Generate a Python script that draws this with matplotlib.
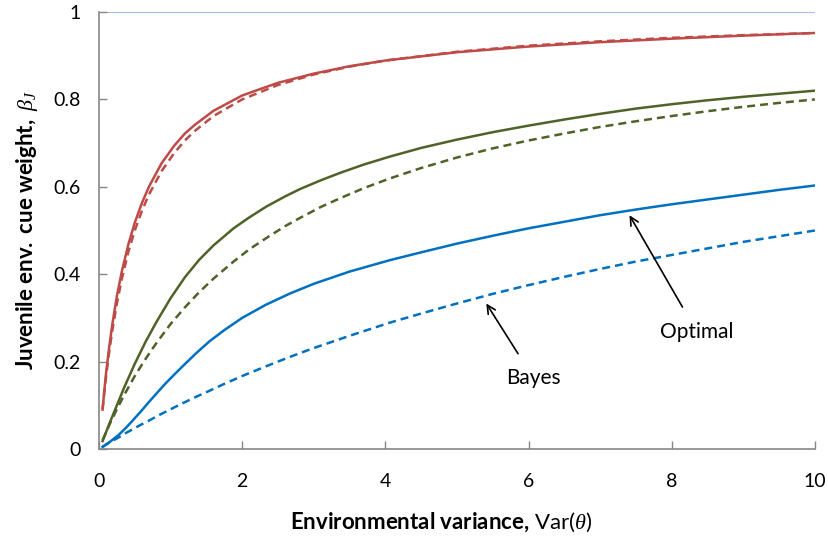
import matplotlib.pyplot as plt

plt.rcParams['font.family'] = ['Lato', 'DejaVu Sans']
plt.rcParams['mathtext.fontset'] = 'custom'
plt.rcParams['mathtext.rm'] = 'Lato'
plt.rcParams['mathtext.bf'] = 'Lato:bold'
plt.rcParams['mathtext.it'] = 'Liberation Serif:italic'

# values
red_x = [0.05, 0.075, 0.1, 0.14, 0.186, 0.25, 0.32, 0.41, 0.5, 0.6, 0.7, 0.875, 1.05, 1.2, 1.34,
         1.6, 2, 2.5, 3, 3.5, 4, 5, 6, 7, 8, 9, 10]
red_opt = [0.09, 0.135, 0.175, 0.23, 0.285, 0.35, 0.407, 0.468, 0.518, 0.563, 0.601, 0.654, 0.694, 0.722, 0.742,
           0.774, 0.809, 0.838, 0.859, 0.876, 0.889, 0.908, 0.921, 0.931, 0.939, 0.946, 0.952]
red_bayes = [0.091, 0.130, 0.167, 0.219, 0.271, 0.333, 0.390, 0.451, 0.5, 0.545, 0.583, 0.636, 0.677, 0.706, 0.728,
             0.762, 0.8, 0.833, 0.857, 0.875, 0.889, 0.909, 0.923, 0.933, 0.941, 0.947, 0.952]

green_x = [0.05, 0.15, 0.25, 0.35, 0.5, 0.65, 0.8, 1, 1.2, 1.4, 1.6, 1.88, 2.1, 2.34, 2.6, 2.81, 3.1, 3.37,
           3.7, 4.06, 4.5, 5, 5.5, 6, 6.5, 7, 7.5, 8, 8.5, 9, 9.5, 10]
green_opt = [0.018, 0.06, 0.10, 0.14, 0.195, 0.245, 0.29, 0.345, 0.393, 0.433, 0.466, 0.505, 0.530, 0.555, 0.578,
             0.595, 0.615, 0.632, 0.651, 0.669, 0.689, 0.708, 0.725, 0.740, 0.754, 0.767, 0.779, 0.789, 0.798,
             0.806, 0.813, 0.820]
green_bayes = [0.02, 0.057, 0.091, 0.123, 0.167, 0.206, 0.242, 0.286, 0.324, 0.359, 0.390, 0.429, 0.457, 0.483,
               0.510, 0.529, 0.554, 0.574, 0.597, 0.619, 0.643, 0.667, 0.688, 0.706, 0.722, 0.737, 0.75, 0.762,
               0.773, 0.783, 0.792, 0.8]

blue_x = [0.05, 0.15, 0.28, 0.38, 0.47, 0.58, 0.7, 0.82, 0.93, 1.05, 1.16, 1.35, 1.54, 1.75, 2, 2.33, 2.67, 3,
          3.5, 4.06, 4.5, 5, 5.5, 6, 6.5, 7, 7.5, 8, 8.5, 9, 9.5, 10]
blue_opt = [0.005, 0.016, 0.033, 0.049, 0.065, 0.085, 0.108, 0.130, 0.150, 0.170, 0.188, 0.218, 0.246, 0.272,
            0.300, 0.330, 0.356, 0.378, 0.406, 0.432, 0.450, 0.470, 0.488, 0.505, 0.520, 0.535, 0.548, 0.560,
            0.571, 0.582, 0.593, 0.603]
blue_bayes = [0.005, 0.015, 0.027, 0.037, 0.045, 0.055, 0.065, 0.076, 0.085, 0.095, 0.104, 0.119, 0.133, 0.149,
              0.167, 0.189, 0.211, 0.231, 0.259, 0.289, 0.310, 0.333, 0.355, 0.375, 0.394, 0.412, 0.429, 0.444,
              0.459, 0.474, 0.487, 0.5]

x_ticks = [0, 2, 4, 6, 8, 10]
y_ticks = [0, 0.2, 0.4, 0.6, 0.8, 1]
y_tick_labels = ['0', '0.2', '0.4', '0.6', '0.8', '1']

fig = plt.figure(figsize=(8.29, 5.39), dpi=100)
ax = fig.add_axes([0.1194, 0.167, 0.8636, 0.8107])

lw = 1.8
dash = (3.2, 2)
ax.axhline(1, color='#8EB4E3', lw=1.2, zorder=1)
ax.plot(red_x, red_opt, color='#BE4B48', lw=lw)
ax.plot(red_x, red_bayes, color='#BE4B48', lw=lw, dashes=dash)
ax.plot(green_x, green_opt, color='#4F6228', lw=lw)
ax.plot(green_x, green_bayes, color='#4F6228', lw=lw, dashes=dash)
ax.plot(blue_x, blue_opt, color='#0070C0', lw=lw)
ax.plot(blue_x, blue_bayes, color='#0070C0', lw=lw, dashes=dash)

ax.annotate('Optimal', xy=(7.41, 0.535), xytext=(8.35, 0.268), fontsize=15,
            ha='center', va='center',
            arrowprops=dict(arrowstyle='->', color='black', lw=1.2, shrinkA=10, shrinkB=0))
ax.annotate('Bayes', xy=(5.41, 0.333), xytext=(6.07, 0.162), fontsize=15,
            ha='center', va='center',
            arrowprops=dict(arrowstyle='->', color='black', lw=1.2, shrinkA=10, shrinkB=0))

ax.set_xlim(0, 10)
ax.set_ylim(0, 1)
ax.set_xticks(x_ticks)
ax.set_yticks(y_ticks)
ax.set_yticklabels(y_tick_labels)
ax.tick_params(direction='in', length=6, width=1, color='#868686', labelsize=14)
ax.tick_params(axis='y', pad=13)
ax.tick_params(axis='x', pad=17)
for s in ['top', 'right']:
    ax.spines[s].set_visible(False)
for s in ['left', 'bottom']:
    ax.spines[s].set_color('#868686')
    ax.spines[s].set_linewidth(1.2)

ax.set_xlabel(r'$\mathbf{Environmental\ variance,}\,$Var($\theta$)', fontsize=16)
ax.xaxis.set_label_coords(0.478, -0.14)
ax.set_ylabel(r'$\mathbf{Juvenile\ env.\ cue\ weight,}$ $\beta_J$', fontsize=16, labelpad=10)

fig.savefig('out.png', dpi=100)
